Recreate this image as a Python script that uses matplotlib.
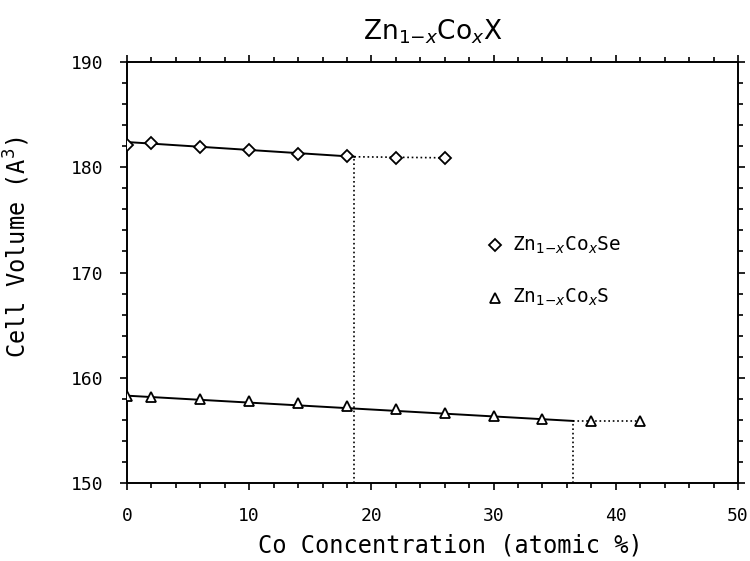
import numpy as np
import matplotlib
matplotlib.use("Agg")
import matplotlib.pyplot as plt
from matplotlib.ticker import MultipleLocator

# ZnCoSe data (diamonds)
se_x = [0, 2, 6, 10, 14, 18, 22, 26]
se_y = [182.1, 182.3, 181.9, 181.6, 181.3, 181.1, 180.9, 180.9]
se_fit_x = [0, 18.6]
se_fit_y = [182.4, 181.0]
se_flat_x = [18.6, 26]
se_flat_y = [181.0, 180.9]
se_limit = 18.6

# ZnCoS data (triangles)
s_x = [0, 2, 6, 10, 14, 18, 22, 26, 30, 34, 38, 42]
s_y = [158.3, 158.2, 158.0, 157.8, 157.6, 157.3, 157.0, 156.7, 156.4, 156.1, 155.9, 155.9]
s_fit_x = [0, 36.5]
s_fit_y = [158.3, 155.9]
s_flat_x = [36.5, 42]
s_flat_y = [155.9, 155.9]
s_limit = 36.5

FONT = "DejaVu Sans Mono"

fig = plt.figure(figsize=(7.5, 5.61), dpi=100)
ax = fig.add_axes([0.1693, 0.139, 0.8147, 0.7504])

kw_pt = dict(ls="none", mfc="white", mec="black", mew=1.3, ms=7.5, zorder=5)
kw_dia = {**kw_pt, "ms": 6.5}

ax.plot(se_fit_x, se_fit_y, color="black", lw=1.4)
ax.plot(se_flat_x, se_flat_y, color="black", lw=1.2, ls=":")
ax.plot([se_limit, se_limit], [150, se_fit_y[-1]], color="black", lw=1.2, ls=":")
ax.plot(se_x, se_y, marker="D", **kw_dia)

ax.plot(s_fit_x, s_fit_y, color="black", lw=1.4)
ax.plot(s_flat_x, s_flat_y, color="black", lw=1.2, ls=":")
ax.plot([s_limit, s_limit], [150, s_fit_y[-1]], color="black", lw=1.2, ls=":")
ax.plot(s_x, s_y, marker="^", **kw_pt)

ax.set_xlim(0, 50)
ax.set_ylim(150, 190)
ax.xaxis.set_major_locator(MultipleLocator(10))
ax.xaxis.set_minor_locator(MultipleLocator(2))
ax.yaxis.set_major_locator(MultipleLocator(10))
ax.yaxis.set_minor_locator(MultipleLocator(2))
ax.tick_params(which="both", direction="out", top=True, right=True,
               labeltop=False, labelright=False, width=1.2)
ax.tick_params(which="major", length=5, labelsize=13, pad=12)
ax.tick_params(which="minor", length=3.5)
for lab in ax.get_xticklabels() + ax.get_yticklabels():
    lab.set_family(FONT)
for sp in ax.spines.values():
    sp.set_linewidth(1.4)

ax.set_xlabel("Co Concentration (atomic %)", family=FONT, fontsize=17)
ax.xaxis.set_label_coords(0.53, -0.12)
ax.set_ylabel("Cell Volume (A$^3$)", family=FONT, fontsize=17)
ax.yaxis.set_label_coords(-0.155, 0.56)
ax.set_title(r"Zn$_{1\mathrm{-}x}$Co$_x$X", family="DejaVu Sans", fontsize=19, pad=16)

# legend entries placed by hand
ax.plot([0.602], [0.565], transform=ax.transAxes, marker="D", **kw_dia)
ax.text(0.63, 0.565, r"Zn$_{1\mathrm{-}x}$Co$_x$Se", transform=ax.transAxes,
        family=FONT, fontsize=14, va="center")
ax.plot([0.602], [0.44], transform=ax.transAxes, marker="^", **kw_pt)
ax.text(0.63, 0.44, r"Zn$_{1\mathrm{-}x}$Co$_x$S", transform=ax.transAxes,
        family=FONT, fontsize=14, va="center")

fig.savefig("out.png", dpi=100)
